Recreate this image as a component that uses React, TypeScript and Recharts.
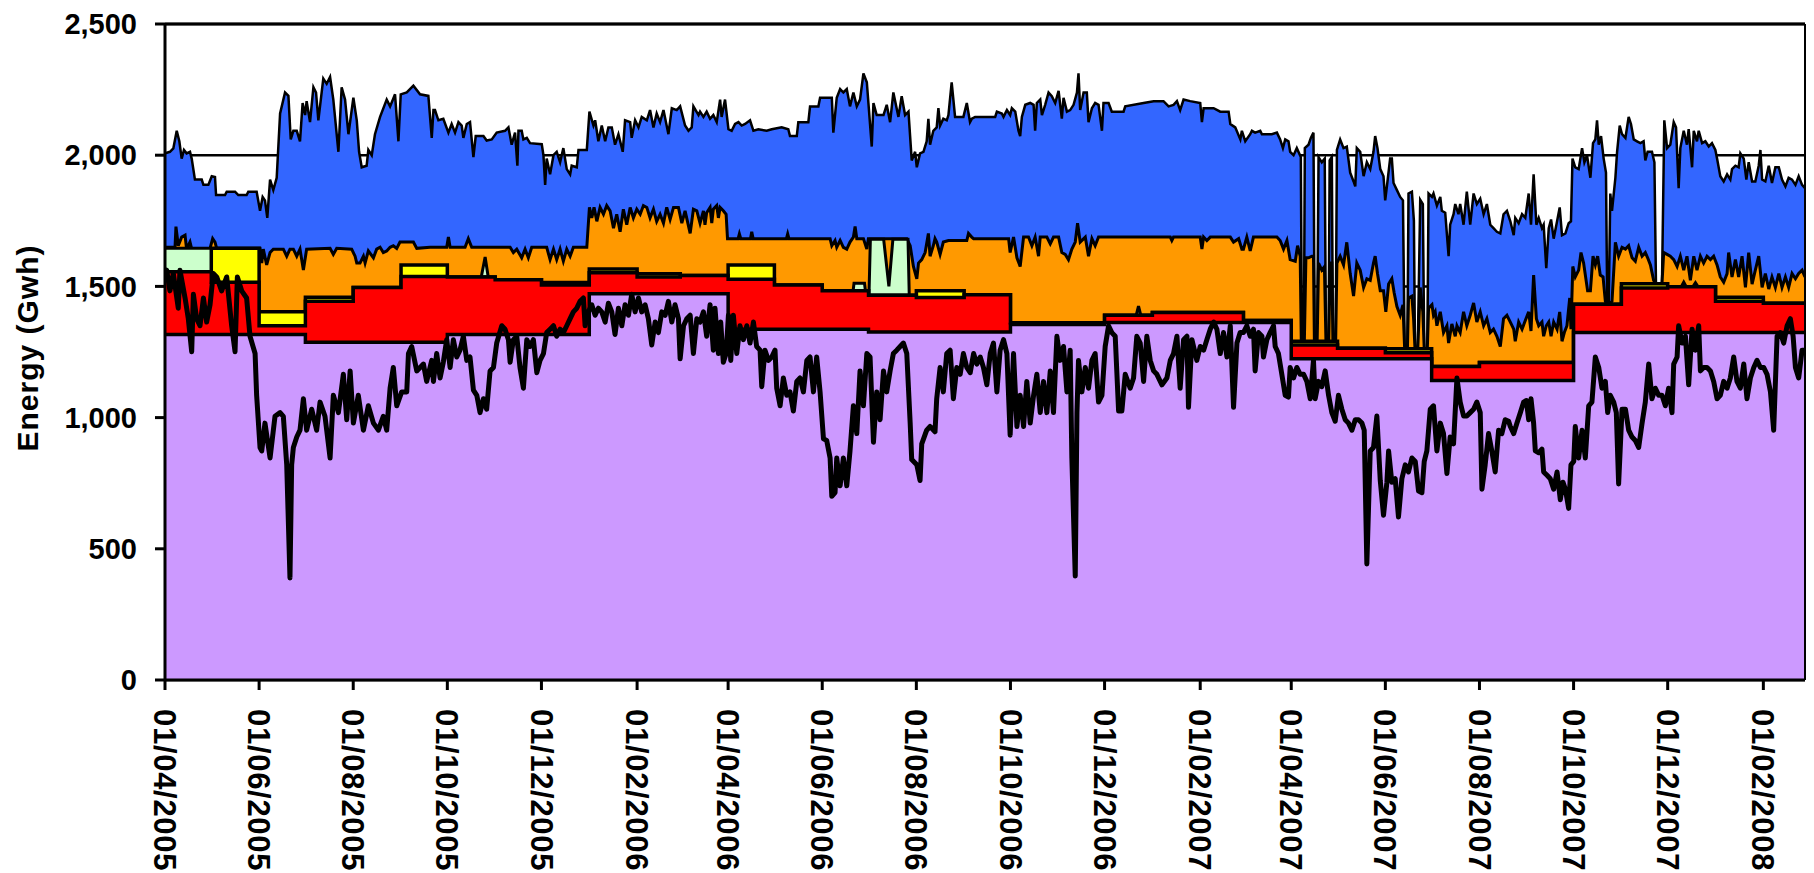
import React from 'react';
import { ComposedChart, Area, Line, XAxis, YAxis, CartesianGrid, ReferenceLine, Label } from 'recharts';

// Day index 0 = 01/04/2005
const MONTH_START = [0,30,61,91,122,153,183,214,244,275,306,334,365,395,426,456,487,518,548,579,609,640,671,699,730,760,791,821,852,883,913,944,974,1005,1036];
const END_DAY = 1063;

const PURPLE_TOP = [1317,1317,1317,1287,1287,1287,1317,1317,1317, 1472,1472,1472,1337,1337,1337,1326,1326,1326,1355,1355,1362, 1362,1362,1362,1224,1224,1224,1141,1141,1141,1324,1324,1324, 1324,1324];
const RED_TOP = [1556,1516,1350,1443,1496,1538,1536,1525,1505, 1552,1536,1542,1527,1505,1483,1466,1458,1468,1361,1361,1390, 1401,1401,1370,1277,1264,1247,1195,1210,1210,1432,1494,1499, 1443,1436];
const YELLOW_TOP = [1556,1645,1403,1459,1496,1582,1536,1525,1515, 1566,1548,1542,1582,1505,1483,1466,1483,1468,1361,1361,1390, 1401,1401,1370,1291,1264,1262,1195,1210,1210,1432,1510,1499, 1459,1436];

const GREEN_PATCHES = [
  [[0,1645],[30,1645]],
  [[205,1536],[207.5,1612],[209.5,1536]],
  [[446,1483],[446.6,1512],[453.4,1512],[454,1483]],
  [[456.3,1466],[457.2,1680],[465.8,1680],[469.2,1500],[471.8,1680],[481.6,1680],[482.4,1466]],
  [[629.5,1390],[631,1425],[632.5,1390]],
  [[982.8,1499],[984.4,1516],[986,1499]],
  [[990.4,1499],[992,1514],[993.6,1499]],
];

const ORANGE_TOP = [
[0,1649],[6.5,1649],[7.1,1728],[8.6,1655],[10.8,1688],[13,1695],[14,1642],[16.2,1669],[18.4,1615],[20.5,1642],[29.2,1645],[30.9,1682],[32.4,1669],[33.5,1645],[61.6,1645],[62.7,1589],[63.7,1642],[65.9,1582],[68.1,1629],[70.2,1642],[76.7,1642],[78.9,1615],[81,1642],[83.2,1642],[85.4,1615],[87.5,1642],[89.7,1562],[91.8,1642],[107,1645],[109.1,1622],[111.3,1645],[121,1642],[123.2,1615],[124.3,1589],[126.4,1589],[128.6,1615],[129.7,1589],[131.8,1635],[135.1,1609],[137.2,1642],[139.4,1649],[141.5,1629],[143.7,1635],[145.9,1649],[148,1655],[150.2,1645],[152.3,1669],[161,1669],[163.2,1645],[171.8,1649],
[182.6,1649],[183.7,1688],[184.8,1649],[194.5,1649],[196.6,1682],[198.8,1649],[223.7,1649],[225.8,1629],[228,1642],[231.2,1609],[233.4,1642],[235.5,1609],[237.7,1649],[247.4,1649],[249.6,1602],[251.8,1642],[253.9,1602],[256.1,1642],[258.2,1596],[260.4,1642],[262.6,1615],[264.7,1649],[273.4,1649],[275.1,1801],[276.6,1761],[278.1,1801],[279.9,1748],[282,1801],[284.2,1775],[286.3,1808],[288.5,1788],[290.7,1722],[292.8,1775],[295,1708],[297.1,1794],[299.3,1735],[301.5,1801],[303.6,1761],[305.8,1794],[308,1775],[310.1,1808],[312.3,1801],[314.4,1761],[316.6,1794],[318.7,1748],[320.9,1775],[323.1,1741],[325.2,1801],[327.4,1755],[329.6,1801],[332.8,1801],[335,1741],[337.1,1788],[340.4,1702],[342.5,1794],[344.7,1788],[346.8,1741],
[349,1788],[350,1735],[351.1,1781],[353.3,1801],[354.4,1741],[355.4,1794],[357.6,1808],[358.7,1761],[359.8,1801],[361.9,1788],[363.7,1775],[364.6,1682],[371.5,1682],[372.3,1700],[373.2,1682],[379.5,1682],[380.3,1708],[381.2,1682],[402.8,1682],[403.6,1700],[404.4,1682],[431.1,1682],[432.2,1655],[434.3,1675],[435.4,1649],[437.6,1675],[439.7,1649],[441.9,1642],[444,1669],[446.2,1688],[447.3,1728],[448.4,1682],[452.7,1682],[454.9,1642],[455.9,1682],[480.8,1682],[483,1655],[485.1,1576],[487.3,1529],[488.4,1589],[490.5,1602],[492.7,1629],[494.8,1702],[495.9,1615],[498,1655],[499.1,1682],[500.2,1669],[502.4,1622],[504.5,1669],[507.8,1675],[519.7,1675],[520.8,1702],[522.9,1688],
[524.1,1682],[546.8,1682],[547.8,1629],[550,1688],[552.2,1609],[554.3,1576],[556.5,1688],[559.7,1688],[561.9,1655],[564,1688],[566.2,1615],[567.3,1688],[571.6,1688],[573.8,1662],[575.9,1688],[579.2,1688],[581.3,1629],[583.5,1622],[585.6,1602],[587.8,1642],[590,1669],[591.5,1741],[593.2,1669],[596.5,1688],[598.6,1615],[600.8,1682],[602.9,1655],[605.1,1688],[651.6,1688],[652.6,1675],[653.7,1688],[671,1688],[672.1,1642],[673.2,1688],[675.3,1675],[677.5,1688],[690.5,1688],[692.6,1669],[695.9,1682],[698,1642],
[699,1642],[701.2,1688],[703.4,1635],[705.5,1688],[720.7,1688],[722.8,1675],[725,1642],[727.2,1675],[729.3,1602],[732.6,1596],[734.1,1655],[735.8,1615],[736.5,1291],[738.5,1291],[739.5,1609],[741.2,1609],[743.4,1615],[744.4,1615],[745,1291],[746.8,1291],[747.7,1589],[749.8,1562],[751.5,1575],[752.5,1291],[754.3,1291],[755.2,1589],[756.3,1589],[757,1291],[758.8,1291],[759.6,1589],[761.7,1615],[763.9,1582],[766,1668],[768.2,1549],[770.4,1463],[772.5,1589],[774.7,1562],[776.9,1496],[779,1529],[781.2,1523],[783.3,1589],[784.4,1615],[785.9,1549],[787.7,1483],[789.8,1483],[791.3,1403],[793.1,1509],[795.2,1529],[796.7,1476],[798.5,1423],[800.6,1390],[802.4,1430],[803.5,1262],[805.3,1262],[806,1456],[808.2,1463],[809.3,1377],[810.2,1262],[812,1262],[813.6,1496],[815.3,1403],[816.2,1262],[818.2,1262],[819,1417],[821.2,1430],[822.2,1390],[823.3,1403],[824.4,1350],[826.6,1403],[828.7,1324],[830.9,1350],[832,1284],[834.1,1357],[836.3,1310],[837.4,1350],[839.5,1324],[841.7,1403],[843.8,1350],[846,1390],[848.2,1437],[850.3,1364],[852.5,1403],[854.7,1350],[856.8,1377],[859,1324],[861.1,1337],[863.3,1310],[865.5,1271],[867.6,1377],[869.8,1390],
[872,1364],[874.2,1337],[875.2,1291],[877.4,1364],[879.6,1337],[881.7,1370],[883.9,1403],[885.4,1330],[887.1,1543],[888.9,1377],[890.4,1350],[892.5,1364],[893.6,1310],[895.3,1350],[896.9,1364],[898.4,1310],[900.1,1364],[902.3,1337],[904,1403],[905.5,1291],[907,1324],[908.7,1350],[910.5,1456],[911.3,1337],[912.5,1576],[914.1,1536],[916.3,1562],[917.8,1629],[919.5,1589],[922.1,1483],[923.9,1483],[925.6,1615],[927.1,1582],[928.6,1615],[930.3,1543],[932.1,1536],[933.6,1443],[934.5,1432],[936,1432],[937.9,1443],[940.1,1668],[942.2,1615],[944.4,1649],[946.6,1642],[948.7,1655],[950.9,1609],[953,1596],[955.2,1649],[957.4,1615],[959.5,1629],[961,1609],[962.8,1582],[964.9,1523],[966.4,1510],[970.3,1510],[971.4,1629],[973.6,1622],[975.7,1615],[977.9,1602],[980.1,1576],[982.2,1615],[984.4,1562],[986.5,1615],[988.7,1523],[990.9,1615],[993,1562],[995.2,1615],[997.3,1589],[999.5,1615],[1001.7,1602],[1003.8,1615],[1006,1582],[1008.1,1536],[1010.3,1516],[1012.5,1549],[1013.5,1629],[1015.7,1536],[1017.9,1602],[1020,1536],[1022.2,1615],[1024.4,1496],[1026.5,1629],[1028.7,1509],[1030.8,1562],[1033,1615],[1035.2,1496],[1037.3,1549],[1039.5,1490],[1041.6,1536],[1043.8,1496],[1046,1549],[1048.1,1496],[1050.3,1536],[1052.4,1496],[1054.6,1549],[1056.8,1529],[1058.9,1549],[1061.1,1562],[1063,1536],
];

const BLUE_TOP = [
[0,2007],[3.2,2013],[5.4,2026],[7.6,2093],[9.3,2053],[10.8,1987],[12.3,2020],[14,2007],[16.2,2013],[17.3,1987],[19.4,1907],[23.8,1907],[24.9,1887],[28.1,1887],[30.3,1920],[32.4,1917],[33.1,1848],[38.9,1848],[40,1861],[45.4,1861],[47.5,1848],[52.9,1848],[54,1861],[59.4,1861],[61.6,1788],[63.3,1841],[64.8,1828],[66.3,1761],[68.1,1907],[70.2,1867],[72.4,1914],[74.6,2159],[77.8,2239],[80,2226],[81.5,2060],[83.2,2093],[85.4,2093],[87.5,2053],[89.2,2199],[90.8,2153],[91.8,2206],[94,2126],[96.2,2259],[97.9,2239],[99.4,2133],[102.6,2292],[104.8,2272],[107,2298],[109.1,2212],[112.4,2013],[114.5,2259],[116.7,2212],[118.9,2080],[122.1,2219],[124.3,2133],[125.8,2013],[127.5,1954],[130.7,1960],[131.8,2020],[134,2000],[136.1,2080],[139.4,2146],[143.7,2212],[145.9,2186],[149.1,2232],[151.3,2053],[152.8,2232],[156.7,2239],[161,2265],[165.3,2232],[170.7,2226],
[172.9,2066],[174,2172],[175,2172],[177.2,2133],[180.4,2139],[183.7,2086],[185.8,2119],[188,2086],[190.2,2126],[192.3,2113],[193.4,2066],[195.6,2119],[197.7,2126],[199.9,1993],[201.4,2073],[206.4,2073],[208.5,2056],[211.8,2060],[215,2086],[220.4,2093],[222.6,2106],[224.7,2040],[226.9,2086],[228.4,1960],[229.1,2093],[231.2,2093],[232.3,2060],[234.5,2066],[236.6,2046],[244.2,2042],[245.3,2000],[246.4,1887],[247.4,1987],[249.6,1927],[251.8,2000],[253.9,2013],[256.1,1973],[258.2,2027],[260.4,1947],[262.6,1927],[263.6,1960],[266.9,1954],[268,2020],[273.4,2020],[275.1,2166],[277.7,2113],[278.8,2133],[280.9,2053],[283.1,2113],[285.3,2053],[287.4,2106],[289.6,2106],[291.7,2040],[293.9,2080],[296.7,2013],[298.2,2133],[301.5,2126],[302.5,2066],[304.7,2133],[306.9,2106],[309,2146],[312.3,2133],[314.4,2172],[316.6,2106],[318.7,2159],[320.9,2126],[323.1,2172],[326.3,2080],[328.5,2179],[331.7,2172],[333.9,2186],[337.1,2113],[339.3,2093],[341.4,2106],[342.5,2186],[345.8,2153],
[346.8,2166],[349,2146],[351.1,2166],[353.3,2139],[355.4,2153],[357.6,2126],[359.8,2212],[360.8,2146],[363,2212],[365.2,2099],[367.3,2093],[369.5,2119],[371.7,2126],[373.8,2113],[376,2119],[379.2,2133],[381.4,2093],[384.6,2099],[390,2093],[393.3,2099],[399.7,2106],[404,2099],[405.1,2073],[409.5,2073],[410.5,2126],[417,2126],[418.1,2186],[423.5,2186],[424.6,2219],[432.2,2219],[433.2,2086],[435.4,2219],[437.6,2252],[439.7,2239],[441.9,2252],[444,2186],[446.2,2239],[448.4,2186],[450.5,2212],[452.7,2312],[454.9,2278],[458.1,2033],[459.2,2199],[461.3,2153],[465.7,2153],[467.8,2192],[470,2126],[472.1,2239],[475.4,2146],[477.5,2225],[479.7,2153],[481.9,2166],[484,1980],[486.2,2013],[487.3,1954],[489.4,2007],[491.6,2013],[493.7,2053],[494.8,2139],[495.9,2040],[498,2093],[500.2,2106],[501.3,2179],[502.4,2113],[504.5,2139],[506.7,2133],[507.8,2153],[509.9,2278],[512.1,2146],[517.5,2146],[519.7,2199],[521.8,2126],
[523,2139],[525.1,2146],[538.1,2146],[539.2,2166],[542.4,2159],[543.5,2146],[545.7,2172],[547.8,2153],[548.9,2179],[551.1,2166],[553.2,2093],[554.3,2073],[555.4,2146],[557.6,2192],[560.8,2199],[563,2192],[564,2093],[565.1,2199],[567.3,2212],[568.4,2153],[570.5,2192],[572.7,2239],[574.8,2225],[577,2199],[579.2,2245],[581.3,2139],[582.4,2219],[584.6,2166],[586.7,2172],[588.9,2192],[591.1,2239],[592.1,2312],[593.2,2172],[595.4,2239],[597.5,2239],[598.6,2126],[600.8,2179],[602.9,2199],[605.1,2192],[607.3,2093],[608.3,2199],[611.6,2199],[613.7,2166],[621.3,2166],[622.4,2186],[634.3,2199],[640.8,2206],[647.2,2206],[650.5,2186],[653.7,2192],[655.9,2206],[658,2172],[660.2,2212],[664.5,2206],[671,2199],[672.1,2126],[673.2,2179],[679.7,2179],[684,2166],[689.4,2166],[690.5,2119],[693.7,2106],[697,2060],[698,2093],[700.2,2053],[703.4,2080],
[704.5,2093],[706.6,2086],[709.9,2093],[711,2080],[717.4,2080],[720.7,2086],[722.8,2060],[724.6,2027],[726.1,2060],[728.2,2053],[729.3,2013],[731.5,2000],[733.6,2027],[736.2,1993],[736.9,1291],[738.2,1291],[738.8,2027],[741.2,2040],[742.7,2066],[744.4,2086],[745.2,1291],[746.8,1291],[747.7,1993],[749.8,1973],[751.7,1987],[752.5,1291],[754.2,1291],[754.9,1980],[756.3,1993],[757,1291],[758.8,1291],[759.6,2020],[761.7,2060],[763.9,2027],[766,2033],[768.2,1933],[770.4,1900],[771.5,1881],[772.5,2027],[774.7,2013],[776.9,1920],[779,1973],[781.2,1947],[783.3,2013],[784.4,2073],[785.9,2027],[787.7,1947],[789.8,1920],[790.9,1828],[792,1881],[794.1,1987],[795.2,1987],[796.3,1894],[798.5,1867],[800.6,1841],[802.4,1828],[803.5,1262],[805.3,1262],[806,1854],[808.2,1861],[809.5,1750],[810.2,1262],[812,1262],[813.6,1830],[815.3,1814],[816.2,1262],[818.2,1262],[819,1854],[821.2,1841],[822.2,1854],[824.4,1808],[826.6,1841],[827.6,1788],[829.8,1781],[832,1615],[833,1735],[835.2,1775],[836.3,1814],[838.4,1775],[839.5,1814],[841.7,1735],[843.8,1861],[846,1735],[848.2,1854],[850.3,1814],[852.5,1834],[854.7,1775],[856.8,1814],[859,1735],[861.1,1722],[863.3,1708],[865.5,1702],[867.6,1775],[869.8,1788],
[872,1748],[874.2,1695],[875.2,1761],[877.4,1741],[879.6,1775],[881.7,1761],[883.9,1854],[885.4,1735],[887.1,1927],[888.9,1735],[890.4,1761],[892.5,1722],[893.6,1735],[895.3,1569],[896.9,1722],[898.4,1755],[900.1,1682],[902.3,1748],[904,1801],[905.5,1695],[907.7,1702],[909.8,1741],[911.3,1748],[912.3,1987],[914.1,1954],[916.3,1947],[918.5,2027],[920,1973],[921.7,2000],[923.9,1914],[925.6,2046],[927.1,2060],[928.2,2133],[929.3,2040],[930.8,2073],[932.5,1987],[934,1934],[934.8,1440],[935.8,1440],[936.8,1854],[937.9,1788],[940.1,1914],[941.2,2013],[942.9,2113],[944.4,2080],[946.6,2066],[948.7,2146],[950.2,2119],[952,2060],[954.1,2053],[956.3,2046],[958.4,2053],[959.5,1980],[961,2013],[963.8,2013],[965.4,1973],[966.4,1510],[970.3,1510],[971.8,2133],[973.6,2027],[975.7,2040],[977.9,2126],[979.4,2106],[981.1,1874],[982.2,2027],[984.4,2093],[986.5,2040],[987.6,2099],[989.8,1954],[990.9,2093],[993,2053],[994.1,2093],[996.3,2046],[998.4,2053],[1000.6,2033],[1002.7,2046],[1004.9,2020],[1006,1987],[1008.1,1920],[1010.3,1900],[1012.5,1927],[1014.6,1907],[1015.7,1947],[1017.9,1960],[1020,1954],[1021.1,2007],[1023.3,1987],[1025,1907],[1026.5,1973],[1028.7,1900],[1030.8,1900],[1033,1960],[1034.1,2020],[1035.2,1907],[1037.3,1900],[1039.5,1960],[1041.6,1894],[1043.8,1954],[1046,1954],[1048.1,1907],[1050.3,1881],[1052.4,1914],[1054.6,1907],[1056.8,1887],[1058.9,1920],[1061.1,1887],[1063,1874],
];

const DEMAND = [
[0,1549],[1.1,1562],[3.2,1483],[5.4,1549],[8.6,1417],[9.7,1562],[13,1456],[15.1,1377],[17.3,1251],[18.4,1470],[20.5,1377],[22.7,1350],[24.9,1456],[27,1364],[29.2,1430],[31.3,1549],[33.5,1536],[36.7,1483],[40,1536],[43.2,1350],[45.4,1251],[46.9,1536],[49.7,1483],[52.9,1456],[55.1,1310],[58.4,1244],[59.4,1085],[61.6,886],[62.7,873],[64.8,979],[68.1,846],[71.3,1005],[74.6,1019],[76.7,1005],[78.9,820],[81,389],[82.1,820],[83.2,886],[85.4,926],[87.5,952],[89.7,1072],[91.8,952],[95.1,1032],[98.3,952],[100.5,1059],[103.7,1005],[107,846],[109.1,1085],[112.4,1019],[115.6,1165],[117.8,992],[120,1178],[122.1,979],[125.3,1085],[128.6,952],[131.8,1045],[135.1,979],[138.3,952],[141.5,1005],[143.7,952],[145.9,1112],[148,1191],[150.2,1045],[153.4,1098],[156.7,1098],[157.8,1244],[159.9,1271],[163.2,1178],[167.5,1204],[169.6,1138],[172.9,1218],
[174,1138],[176.1,1244],[178.3,1151],[180.4,1211],[182.6,1297],[184.8,1191],[186.9,1297],[189.1,1231],[191.2,1257],[193.4,1310],[195.6,1218],[197.7,1231],[199.9,1105],[202.1,1085],[204.2,1019],[206.4,1072],[208.5,1032],[210.7,1178],[212.9,1191],[215,1284],[218.3,1350],[220.4,1337],[222.6,1297],[223.7,1211],[225.8,1297],[228,1310],[230.1,1191],[232.3,1112],[234.5,1297],[236.6,1271],[238.8,1297],[241,1171],[243.1,1218],[245.3,1244],[247.4,1324],[249.6,1337],[251.8,1350],[253.9,1310],[256.1,1337],[258.2,1324],[260.4,1350],[262.6,1377],[264.7,1403],[266.9,1417],[269,1443],[271.2,1456],[272.3,1350],[274.4,1403],[276.6,1430],[278.8,1390],[280.9,1417],[283.1,1403],[285.3,1364],[287.4,1436],[289.6,1403],[291.7,1317],[293.9,1417],[296.1,1350],[298.2,1430],[300.4,1390],[302.5,1470],[304.7,1403],[306.9,1456],[309,1403],[311.2,1430],[313.3,1377],[315.5,1277],[317.7,1364],[319.8,1324],[322,1403],[324.2,1390],[326.3,1443],[328.5,1364],[330.6,1430],[332.8,1377],[333.9,1224],[336.1,1350],[338.2,1377],[340.4,1390],[342.5,1244],[344.7,1377],
[346.8,1364],[349,1403],[351.1,1310],[353.3,1430],[355.4,1257],[356.5,1417],[358.7,1244],[360.2,1364],[361.9,1211],[363.7,1244],[365.2,1390],[366.7,1218],[368.4,1390],[370.6,1244],[372.7,1350],[374.9,1297],[377.1,1350],[379.2,1284],[381.4,1364],[383.5,1271],[385.7,1257],[386.8,1118],[388.9,1257],[391.1,1218],[393.3,1231],[395.4,1257],[396.5,1112],[398.7,1045],[400.8,1151],[403,1085],[405.1,1098],[407.3,1025],[409.5,1138],[411.6,1151],[413.8,1098],[416,1218],[418.1,1231],[420.3,1098],[422.4,1231],[424.6,1098],[426.8,919],[428.9,913],[431.1,846],[432.2,700],[434.3,714],[435.4,846],[437.6,740],[439.7,846],[441.9,740],[444,873],[446.2,1045],[448.4,939],[450.5,1178],[452.7,1045],[454.9,1244],[457,1231],[459.2,906],[461.3,1098],[463.5,992],[465.7,1178],[467.8,1098],[470,1178],[472.1,1244],[474.3,1257],[476.5,1271],[478.6,1284],[480.8,1244],[483,979],[484,840],[487.3,820],[489.4,760],[490.5,900],[493.7,952],[495.9,966],[499.1,946],[500.2,1072],[502.4,1191],[504.5,1098],[506.7,1244],[508.9,1257],[511,1072],[513.2,1191],[515.4,1165],[517.5,1244],[519.7,1191],
[521.9,1171],[524.1,1244],[526.2,1204],[528.4,1231],[530.5,1191],[532.7,1125],[534.9,1244],[537,1284],[539.2,1098],[541.3,1257],[543.5,1297],[545.7,1244],[547.8,933],[550,1244],[552.2,966],[554.3,1085],[556.5,966],[558.6,1138],[560.8,979],[563,1085],[565.1,1165],[567.3,1019],[569.4,1138],[571.6,1019],[573.8,1178],[575.9,1019],[578.1,1310],[580.2,1218],[582.4,1271],[584.6,1098],[586.7,1257],[587.8,846],[590,396],[591.1,1019],[592.1,1218],[594.3,1098],[596.5,1191],[598.6,1112],[600.8,1218],[602.9,1244],[605.1,1059],[607.3,1085],[609.4,1271],[611.6,1350],[613.7,1324],[615.9,1310],[618.1,1025],[620.2,1025],[622.4,1165],[625.6,1112],[627.8,1151],[629.9,1310],[632.1,1284],[634.3,1138],[636.4,1310],[638.6,1218],[640.8,1178],[642.9,1165],[646.2,1125],[649.4,1151],[651.6,1218],[653.7,1244],[655.9,1310],[658,1112],[660.2,1297],[662.4,1310],[663.4,1039],[665.6,1297],[668.8,1218],[671,1271],[673.2,1257],[675.3,1297],[677.5,1337],[679.7,1364],[681.8,1337],[684,1244],[686.1,1324],[688.3,1231],[690.5,1350],[692.6,1039],[694.8,1284],[696.9,1324],
[699,1324],[701.2,1350],[703.4,1310],[705.5,1337],[706.6,1178],[708.8,1324],[711,1310],[712,1231],[714.2,1297],[716.3,1324],[718.5,1350],[719.6,1271],[721.7,1244],[723.9,1165],[726.1,1085],[728.2,1078],[729.3,1191],[731.5,1151],[733.6,1191],[735.8,1165],[738,1165],[740.1,1138],[742.3,1072],[744.4,1218],[745.5,1072],[747.7,1138],[749.8,1118],[752,1178],[754.2,1085],[756.3,1019],[758.5,986],[760.6,1085],[762.8,1032],[765,992],[767.1,979],[769.3,952],[771.5,992],[773.6,992],[775.8,979],[777.3,952],[779,442],[781.2,873],[783.3,886],[785.5,1006],[787.7,760],[789.8,628],[792,754],[793.1,873],[795.2,754],[797.4,767],[799.5,621],[801.7,767],[803.9,820],[806,793],[808.2,846],[810.4,833],[812.5,720],[814.7,714],[816.2,833],[817.9,873],[820.1,1032],[822.2,1045],[824.4,873],[826.6,979],[828.7,939],[830.9,787],[833,926],[835.2,900],[837.4,1151],[839.5,1059],[841.7,1006],[843.8,1006],[846,1019],[848.2,1032],[850.3,1059],[852.5,1019],[853.6,727],[855.7,820],[857.9,939],[860,873],[862.2,793],[864.4,952],[866.5,939],[868.7,992],[870.9,986],
[872,966],[874.2,939],[876.3,979],[878.5,1019],[880.6,1059],[882.4,1065],[883.9,992],[885.4,1072],[887.1,979],[888.2,873],[890.4,866],[892.5,880],[893.6,793],[895.8,780],[897.9,767],[900.1,727],[902.3,793],[904.4,687],[906.1,754],[907.7,727],[909.8,654],[911.3,820],[913.1,833],[914.1,966],[916.3,846],[918.5,952],[920.6,846],[922.8,1045],[924.9,1059],[927.1,1231],[929.3,1191],[931.4,1112],[933.6,1138],[935.1,1019],[936.8,1085],[939,1059],[940.7,1019],[942.2,747],[944.4,1032],[946.6,1032],[948.7,952],[950.9,926],[953,913],[955.2,886],[957.4,979],[959.5,1059],[961.7,1204],[963.8,1072],[966,1112],[968.2,1085],[970.3,1085],[972.5,1045],[974.6,1112],[976.8,1019],[977.9,1204],[980.1,1231],[981.1,1350],[983.3,1284],[985.5,1310],[987.6,1125],[989.8,1337],[991.9,1257],[994.1,1350],[995.2,1178],[997.3,1191],[999.5,1191],[1001.7,1178],[1003.8,1138],[1006,1072],[1008.1,1085],[1010.3,1138],[1012.5,1112],[1014.6,1151],[1016.8,1231],[1018.9,1138],[1021.1,1112],[1023.3,1204],[1025.4,1072],[1027.6,1151],[1029.8,1191],[1031.9,1218],[1034.1,1191],[1036.2,1191],[1038.4,1165],[1040.6,1098],[1042.7,952],[1044.9,1310],[1047,1324],[1049.2,1284],[1051.4,1350],[1053.5,1377],[1055.3,1310],[1056.8,1191],[1058.9,1151],[1061.1,1257],[1063,1257],
];

const TICK_DAYS = [0,61,122,183,244,306,365,426,487,548,609,671,730,791,852,913,974,1036];
const TICK_LABELS = ['01/04/2005','01/06/2005','01/08/2005','01/10/2005','01/12/2005','01/02/2006','01/04/2006','01/06/2006','01/08/2006','01/10/2006','01/12/2006','01/02/2007','01/04/2007','01/06/2007','01/08/2007','01/10/2007','01/12/2007','01/02/2008'];
const Y_TICKS = [0, 500, 1000, 1500, 2000, 2500];

const FONT = "'Liberation Sans', Arial, Helvetica, sans-serif";

const toPts = (arr: number[][]) => arr.map(([d, v]) => ({ d, v }));
const stepPts = (vals: number[]) => {
  const pts = MONTH_START.map((d, i) => ({ d, v: vals[i] }));
  pts.push({ d: END_DAY, v: vals[vals.length - 1] });
  return pts;
};

const blueData = toPts(BLUE_TOP);
const orangeData = toPts(ORANGE_TOP);
const greenData = GREEN_PATCHES.map(toPts);
const yellowData = stepPts(YELLOW_TOP);
const redData = stepPts(RED_TOP);
const purpleData = stepPts(PURPLE_TOP);
const demandData = toPts(DEMAND);

const XTick = (props: any) => {
  const { x, y, payload } = props;
  const idx = TICK_DAYS.indexOf(payload.value);
  return (
    <g transform={`translate(${x},${y})`}>
      <text transform="rotate(90)" x={19} y={0} dy="0.35em" textAnchor="start"
        fontFamily={FONT} fontSize={31} fontWeight="bold" letterSpacing={0.7} fill="#000">
        {idx >= 0 ? TICK_LABELS[idx] : ''}
      </text>
    </g>
  );
};

const renderTitle = () => (
  <text x={19} y={340} transform="rotate(-90 19 340)" textAnchor="middle" dy="0.35em"
    fontFamily={FONT} fontSize={30} fontWeight="bold" letterSpacing={1} fill="#000">
    Energy (Gwh)
  </text>
);

export default function App() {
  return (
    <ComposedChart width={1806} height={865} margin={{ top: 16, right: 9, bottom: 3, left: 0 }}>
      <CartesianGrid vertical={false} stroke="#000" strokeWidth={2.5} />
      <XAxis type="number" dataKey="d" domain={[0, END_DAY]} ticks={TICK_DAYS} interval={0}
        allowDataOverflow tick={<XTick />} tickSize={10} tickMargin={0} height={190}
        axisLine={{ stroke: '#000', strokeWidth: 3 }} tickLine={{ stroke: '#000', strokeWidth: 3 }} />
      <YAxis type="number" domain={[0, 2500]} ticks={Y_TICKS} interval={0} width={157}
        tickSize={10} tickMargin={18} allowDataOverflow
        tickFormatter={(v: number) => v.toLocaleString('en-US')}
        tick={{ fontSize: 29, fontWeight: 'bold', fill: '#000', fontFamily: FONT }}
        axisLine={{ stroke: '#000', strokeWidth: 3 }} tickLine={{ stroke: '#000', strokeWidth: 3 }}>
        <Label content={renderTitle} />
      </YAxis>
      <Area data={blueData} dataKey="v" type="linear" baseValue={0} fill="#3366FF" fillOpacity={1}
        stroke="#000" strokeWidth={2.5} isAnimationActive={false} />
      <Area data={orangeData} dataKey="v" type="linear" baseValue={0} fill="#FF9900" fillOpacity={1}
        stroke="#000" strokeWidth={3} isAnimationActive={false} />
      {greenData.map((g, i) => (
        <Area key={'g' + i} data={g} dataKey="v" type="linear" baseValue={0} fill="#CCFFCC" fillOpacity={1}
          stroke="#000" strokeWidth={3} isAnimationActive={false} />
      ))}
      <Area data={yellowData} dataKey="v" type="stepAfter" baseValue={0} fill="#FFFF00" fillOpacity={1}
        stroke="#000" strokeWidth={3.5} isAnimationActive={false} />
      <Area data={redData} dataKey="v" type="stepAfter" baseValue={0} fill="#FF0000" fillOpacity={1}
        stroke="#000" strokeWidth={3.5} isAnimationActive={false} />
      <Area data={purpleData} dataKey="v" type="stepAfter" baseValue={0} fill="#CC99FF" fillOpacity={1}
        stroke="#000" strokeWidth={3.5} isAnimationActive={false} />
      <Line data={demandData} dataKey="v" type="linear" stroke="#000" strokeWidth={5} dot={false}
        strokeLinejoin="round" isAnimationActive={false} />
      <ReferenceLine x={END_DAY} stroke="#000" strokeWidth={2} ifOverflow="visible" />
      <ReferenceLine y={2500} stroke="#000" strokeWidth={3} ifOverflow="visible" />
    </ComposedChart>
  );
}
